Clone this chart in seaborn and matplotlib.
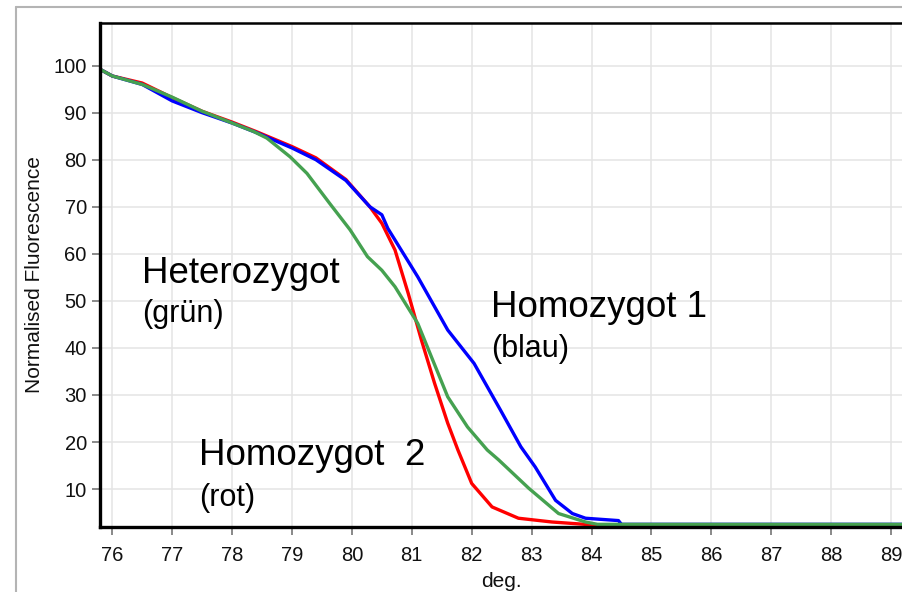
import matplotlib
matplotlib.use("Agg")
import matplotlib.pyplot as plt
import seaborn as sns
import pandas as pd
from matplotlib.lines import Line2D

# ---- data ----
red_x = [75.8, 76.0, 76.5, 77.0, 77.5, 78.0, 78.4, 79.0, 79.4, 79.9, 80.3, 80.5,
         80.72, 80.94, 81.16, 81.38, 81.6, 81.77, 82.0, 82.34, 82.78, 83.34, 84.0, 89.2]
red_y = [99.2, 97.8, 96.3, 93.2, 90.3, 88.0, 86.0, 82.8, 80.4, 75.8, 70.0, 66.5,
         60.8, 51.6, 41.7, 32.5, 24.0, 18.3, 11.2, 6.2, 3.8, 3.0, 2.4, 2.4]

blue_x = [75.8, 76.0, 76.5, 77.0, 77.5, 78.0, 78.4, 79.0, 79.4, 79.9, 80.3, 80.5,
          80.6, 81.1, 81.6, 82.04, 82.48, 82.82, 83.06, 83.4, 83.68, 83.9, 84.45, 84.5, 89.2]
blue_y = [99.2, 97.8, 96.0, 92.5, 90.0, 87.8, 85.8, 82.5, 80.0, 75.6, 70.0, 68.3,
          65.4, 55.1, 43.8, 36.7, 26.8, 19.0, 14.7, 7.6, 4.8, 3.8, 3.3, 2.5, 2.5]

green_x = [75.8, 76.0, 76.5, 77.0, 77.5, 78.0, 78.36, 78.58, 78.97, 79.25, 79.63, 79.97,
           80.26, 80.5, 80.72, 81.1, 81.6, 81.93, 82.26, 82.45, 82.95, 83.45, 83.9, 84.1, 89.2]
green_y = [99.2, 97.8, 96.0, 93.3, 90.3, 87.8, 86.0, 84.6, 80.6, 77.1, 70.7, 65.1,
           59.4, 56.5, 53.0, 45.2, 29.6, 23.2, 18.3, 16.2, 10.2, 4.8, 3.0, 2.5, 2.5]

x_ticks = list(range(76, 90))
y_ticks = list(range(10, 101, 10))

series_names = ["Homozygot 2", "Homozygot 1", "Heterozygot"]
colors = {"Homozygot 2": "#ff0000", "Homozygot 1": "#0000ff", "Heterozygot": "#45a150"}

frames = []
for name, xs, ys in zip(series_names, [red_x, blue_x, green_x], [red_y, blue_y, green_y]):
    frames.append(pd.DataFrame({"deg": xs, "fluor": ys, "sample": name}))
df = pd.concat(frames, ignore_index=True)

# ---- styling ----
sns.set_theme(style="white")
plt.rcParams["font.family"] = ["Liberation Sans", "DejaVu Sans"]

W, H = 903, 592
fig = plt.figure(figsize=(W / 100, H / 100), dpi=100)
ax = fig.add_axes([100 / W, 1 - 526.7 / H, (W - 100) / W, (526.7 - 23.3) / H])

sns.lineplot(data=df, x="deg", y="fluor", hue="sample", hue_order=series_names,
             palette=colors, linewidth=2.4, ax=ax, legend=False, sort=False,
             estimator=None)

ax.set_xlim(75.795, 89.2)
ax.set_ylim(2.0, 109.0)
ax.set_xticks(x_ticks)
ax.set_yticks(y_ticks)
ax.grid(True, color="#e4e4e4", linewidth=1.1)
ax.set_axisbelow(True)

for s in ["left", "bottom"]:
    ax.spines[s].set_color("black")
    ax.spines[s].set_linewidth(2.4)
ax.spines["top"].set_color("black")
ax.spines["top"].set_linewidth(1.8)
ax.spines["right"].set_visible(False)

ax.tick_params(axis="both", which="major", direction="out", length=6, width=1.3,
               color="#808080", labelsize=14.5, labelcolor="#111111",
               bottom=True, left=True)
ax.tick_params(axis="x", pad=8)
ax.tick_params(axis="y", pad=3.5)

ax.set_xlabel("deg.", fontsize=15, color="#111111", labelpad=5)
ax.set_ylabel("Normalised Fluorescence", fontsize=15, color="#111111", labelpad=7)

# annotations
def ftext(x, y, s, size):
    fig.text(x / W, 1 - y / H, s, fontsize=size, color="black", va="baseline", ha="left")

ftext(141.7, 282.7, "Heterozygot", 26.5)
ftext(141.7, 321.7, "(grün)", 22)
ftext(491.0, 316.7, "Homozygot 1", 26.5)
ftext(491.0, 357.3, "(blau)", 22)
ftext(199.3, 465.0, "Homozygot  2", 26.5)
ftext(199.3, 506.0, "(rot)", 22)

# outer gray frame
fig.add_artist(Line2D([16 / W, 16 / W], [0, 1 - 7 / H], color="#b4b4b4", linewidth=1.5,
                      transform=fig.transFigure))
fig.add_artist(Line2D([16 / W, 1], [1 - 7 / H, 1 - 7 / H], color="#b4b4b4", linewidth=1.5,
                      transform=fig.transFigure))

fig.savefig("out.png", dpi=100, facecolor="white")
